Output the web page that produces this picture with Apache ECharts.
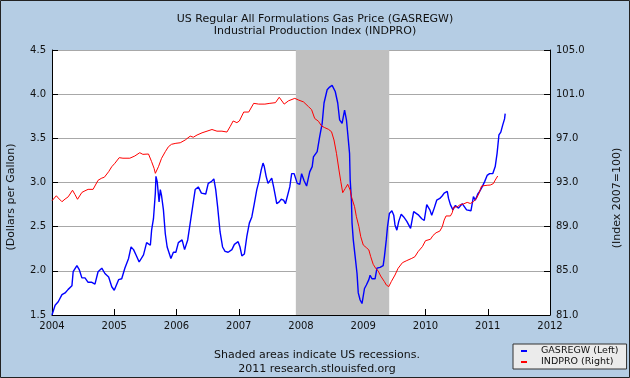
<!DOCTYPE html>
<html>
<head>
<meta charset="utf-8">
<script src="https://cdn.jsdelivr.net/npm/echarts@6/dist/echarts.min.js"></script>
<style>html,body{margin:0;padding:0;background:#B5CDE4;}#c{width:630px;height:378px;}</style>
</head>
<body>
<div id="c"></div>
<script>
// Weekly gas price (GASREGW): decimal year / dollars per gallon
const gasYears = [2004.00,2004.05,2004.10,2004.16,2004.21,2004.26,2004.32,2004.34,2004.40,2004.44,2004.48,2004.53,2004.58,2004.64,2004.69,2004.74,2004.80,2004.85,2004.91,2004.96,
2005.00,2005.07,2005.12,2005.17,2005.23,2005.27,2005.31,2005.35,2005.40,2005.47,2005.52,2005.58,2005.60,2005.63,2005.66,2005.67,2005.69,2005.72,2005.74,2005.76,2005.79,2005.82,2005.85,2005.91,2005.95,2005.99,
2006.03,2006.09,2006.13,2006.18,2006.22,2006.26,2006.30,2006.35,2006.40,2006.43,2006.47,2006.51,2006.56,2006.60,2006.63,2006.66,2006.70,2006.74,2006.78,2006.83,2006.89,2006.93,2006.99,
2007.02,2007.05,2007.09,2007.13,2007.17,2007.21,2007.25,2007.29,2007.33,2007.36,2007.39,2007.41,2007.44,2007.47,2007.50,2007.53,2007.56,2007.59,2007.61,2007.65,2007.68,2007.72,2007.75,2007.78,2007.82,2007.85,2007.89,2007.91,2007.94,2007.98,
2008.01,2008.05,2008.09,2008.14,2008.18,2008.20,2008.26,2008.30,2008.34,2008.37,2008.42,2008.46,2008.50,2008.52,2008.55,2008.59,2008.62,2008.66,2008.68,2008.70,2008.73,2008.75,2008.78,2008.79,2008.81,2008.82,2008.84,2008.87,2008.90,2008.92,2008.95,2008.98,2008.99,
2009.02,2009.05,2009.09,2009.11,2009.14,2009.17,2009.19,2009.22,2009.25,2009.27,2009.32,2009.34,2009.37,2009.39,2009.42,2009.46,2009.49,2009.51,2009.54,2009.57,2009.61,2009.65,2009.70,2009.76,2009.78,2009.81,2009.85,2009.89,2009.94,2009.98,
2010.02,2010.07,2010.10,2010.14,2010.18,2010.23,2010.27,2010.30,2010.35,2010.37,2010.40,2010.44,2010.48,2010.53,2010.59,2010.61,2010.66,2010.69,2010.73,2010.77,2010.80,2010.84,2010.87,2010.91,2010.95,2010.99,
2011.03,2011.08,2011.12,2011.15,2011.18,2011.21,2011.24,2011.27,2011.28];
const gasPrices = [1.50,1.61,1.65,1.73,1.75,1.79,1.83,1.99,2.06,2.01,1.92,1.92,1.87,1.87,1.85,1.99,2.03,1.97,1.93,1.82,
1.78,1.90,1.91,2.03,2.14,2.27,2.24,2.18,2.10,2.18,2.32,2.29,2.46,2.59,2.88,3.07,3.01,2.78,2.92,2.85,2.69,2.42,2.27,2.14,2.21,2.21,
2.32,2.35,2.24,2.35,2.54,2.73,2.92,2.95,2.88,2.90,2.87,2.99,3.01,3.04,2.92,2.73,2.44,2.27,2.22,2.21,2.24,2.30,2.33,
2.27,2.17,2.19,2.39,2.54,2.61,2.76,2.92,3.03,3.14,3.22,3.18,3.07,2.99,2.97,3.05,2.95,2.84,2.76,2.78,2.81,2.80,2.76,2.75,2.95,3.10,3.10,3.09,2.99,2.98,
3.10,3.02,2.96,3.12,3.18,3.29,3.35,3.52,3.67,3.90,4.05,4.08,4.10,4.11,4.03,3.90,3.71,3.67,3.65,3.82,3.71,3.56,3.33,3.03,2.80,2.54,2.35,2.16,1.97,1.75,1.67,1.63,1.61,
1.80,1.84,1.90,1.95,1.91,1.93,1.91,2.03,2.05,2.04,2.06,2.16,2.35,2.50,2.65,2.68,2.63,2.52,2.46,2.56,2.64,2.61,2.56,2.48,2.49,2.67,2.65,2.63,2.59,2.57,
2.75,2.69,2.63,2.71,2.80,2.82,2.85,2.88,2.90,2.82,2.75,2.69,2.74,2.71,2.76,2.75,2.69,2.71,2.68,2.84,2.80,2.87,2.90,2.95,3.01,3.08,
3.10,3.10,3.18,3.33,3.54,3.57,3.65,3.72,3.78];

// Industrial production index (INDPRO)
const ipYears = [2004.00,2004.07,2004.10,2004.16,2004.21,2004.26,2004.33,2004.37,2004.41,2004.48,2004.53,2004.58,2004.66,2004.74,2004.80,2004.84,2004.91,2004.96,
2005.01,2005.08,2005.14,2005.25,2005.33,2005.41,2005.46,2005.55,2005.60,2005.64,2005.66,2005.71,2005.76,2005.82,2005.87,2005.92,2005.99,
2006.06,2006.14,2006.22,2006.27,2006.33,2006.41,2006.49,2006.57,2006.65,2006.73,2006.81,2006.86,2006.91,2006.97,
2007.01,2007.08,2007.16,2007.24,2007.32,2007.42,2007.50,2007.59,2007.65,2007.73,2007.80,2007.90,2007.96,
2008.04,2008.12,2008.17,2008.22,2008.28,2008.33,2008.38,2008.44,2008.49,2008.53,2008.57,2008.61,2008.64,2008.67,2008.71,2008.75,2008.79,2008.81,2008.86,2008.89,2008.93,2008.96,
2009.00,2009.05,2009.09,2009.12,2009.16,2009.20,2009.24,2009.28,2009.34,2009.37,2009.41,2009.45,2009.51,2009.56,2009.63,2009.70,2009.78,2009.83,2009.88,2009.95,
2010.00,2010.08,2010.12,2010.17,2010.23,2010.27,2010.30,2010.33,2010.40,2010.43,2010.45,2010.51,2010.55,2010.61,2010.67,2010.72,2010.77,2010.82,2010.86,2010.90,2010.93,2010.99,
2011.04,2011.09,2011.12,2011.16];
const ipValues = [91.35,91.8,91.6,91.26,91.5,91.7,92.3,91.9,91.48,92.1,92.25,92.38,92.38,93.2,93.4,93.47,93.98,94.43,
94.74,95.25,95.2,95.2,95.4,95.7,95.55,95.58,94.89,94.28,93.83,94.43,95.19,95.79,96.24,96.46,96.55,
96.6,96.85,97.2,97.1,97.3,97.5,97.65,97.8,97.65,97.65,97.57,98.05,98.57,98.42,
98.57,99.38,99.38,100.17,100.1,100.1,100.17,100.23,100.72,100.1,100.4,100.62,100.47,
100.3,99.87,99.6,98.8,98.55,98.12,97.97,97.82,97.6,96.85,95.64,94.13,93.07,92.08,92.45,92.84,92.32,91.72,90.81,89.9,89.0,88.09,
87.34,87.1,86.89,86.28,85.59,85.23,84.98,84.53,84.02,83.72,83.57,84.02,84.62,85.23,85.74,85.93,86.13,86.28,86.73,87.19,
87.73,87.86,88.2,88.45,88.6,89.0,89.6,89.97,89.97,90.27,90.76,90.8,90.97,91.06,91.2,91.1,91.26,91.57,92.02,92.68,92.75,92.75,
92.77,92.9,93.22,93.59];

// Recession (Dec 2007 - Jun 2009)
const recessionStart = 2007.917;
const recessionEnd = 2009.417;

const titleLines = ['US Regular All Formulations Gas Price (GASREGW)', 'Industrial Production Index (INDPRO)'];
const gasName = 'GASREGW (Left)';
const ipName = 'INDPRO (Right)';

const FONT = 'DejaVu Sans';
const chart = echarts.init(document.getElementById('c'), null, {renderer: 'canvas'});

chart.setOption({
  animation: false,
  backgroundColor: '#B5CDE4',
  title: {
    text: titleLines.join('\n'),
    left: 'center', top: 8,
    textStyle: {fontFamily: FONT, fontSize: 11, fontWeight: 'normal', color: '#111', lineHeight: 12}
  },
  legend: {
    orient: 'vertical',
    left: 513, top: 344,
    padding: [2, 8, 2, 8],
    itemGap: 1,
    itemWidth: 6, itemHeight: 2,
    icon: 'rect',
    backgroundColor: '#EBEBEB',
    borderColor: '#333', borderWidth: 1, borderRadius: 0,
    textStyle: {fontFamily: FONT, fontSize: 9.5, color: '#111', padding: [0, 0, 0, 9]},
    data: [gasName, ipName]
  },
  grid: {left: 52, right: 80, top: 50, bottom: 63, containLabel: false, outerBoundsMode: 'none',
    show: true, backgroundColor: '#FFFFFF', borderWidth: 0},
  xAxis: {
    type: 'value', min: 2004, max: 2012, interval: 1,
    axisLine: {lineStyle: {color: '#000', width: 1}},
    axisTick: {inside: true, length: 6, lineStyle: {color: '#000'}},
    axisLabel: {fontFamily: FONT, fontSize: 10, color: '#111', margin: 6, showMinLabel: true, showMaxLabel: true,
      formatter: v => String(Math.round(v))},
    splitLine: {show: false}
  },
  yAxis: [{
    type: 'value', min: 1.5, max: 4.5, interval: 0.5, position: 'left',
    axisLine: {show: true, lineStyle: {color: '#000', width: 1}},
    axisTick: {show: true, inside: true, length: 6, lineStyle: {color: '#000'}},
    axisLabel: {fontFamily: FONT, fontSize: 10, color: '#111', margin: 6, showMinLabel: true, showMaxLabel: true,
      formatter: v => v.toFixed(1)},
    splitLine: {show: true, lineStyle: {color: '#A8A8A8', width: 1}}
  }, {
    type: 'value', min: 81, max: 105, interval: 4, position: 'right',
    axisLine: {show: true, lineStyle: {color: '#000', width: 1}},
    axisTick: {show: true, inside: true, length: 6, lineStyle: {color: '#000'}},
    axisLabel: {fontFamily: FONT, fontSize: 10, color: '#111', margin: 6, showMinLabel: true, showMaxLabel: true,
      formatter: v => v.toFixed(1)},
    splitLine: {show: false}
  }],
  series: [{
    name: gasName, type: 'line', yAxisIndex: 0, showSymbol: false, symbol: 'none',
    data: gasYears.map((y, i) => [y, gasPrices[i]]),
    lineStyle: {color: '#0000FF', width: 1.4},
    itemStyle: {color: '#0000FF'},
    markArea: {
      silent: true,
      itemStyle: {color: '#C0C0C0', opacity: 1},
      data: [[{xAxis: recessionStart}, {xAxis: recessionEnd}]]
    },
    z: 3
  }, {
    name: ipName, type: 'line', yAxisIndex: 1, showSymbol: false, symbol: 'none',
    data: ipYears.map((y, i) => [y, ipValues[i]]),
    lineStyle: {color: '#FF0000', width: 1},
    itemStyle: {color: '#FF0000'},
    z: 3
  }],
  graphic: [
    {type: 'text', x: 11, y: 197, rotation: Math.PI / 2,
      style: {text: '(Dollars per Gallon)', fontFamily: FONT, fontSize: 11, fill: '#111', align: 'center', verticalAlign: 'middle'}},
    {type: 'text', x: 617, y: 198, rotation: Math.PI / 2,
      style: {text: '(Index 2007=100)', fontFamily: FONT, fontSize: 11, fill: '#111', align: 'center', verticalAlign: 'middle'}},
    {type: 'text', x: 317, y: 355,
      style: {text: 'Shaded areas indicate US recessions.', fontFamily: FONT, fontSize: 11, fill: '#111', align: 'center', verticalAlign: 'middle'}},
    {type: 'text', x: 317, y: 369,
      style: {text: '2011 research.stlouisfed.org', fontFamily: FONT, fontSize: 11, fill: '#111', align: 'center', verticalAlign: 'middle'}},
    {type: 'rect', shape: {x: 0.5, y: 0.5, width: 629, height: 377}, style: {fill: 'none', stroke: '#222', lineWidth: 1}, z: 100}
  ]
});
</script>
</body>
</html>
